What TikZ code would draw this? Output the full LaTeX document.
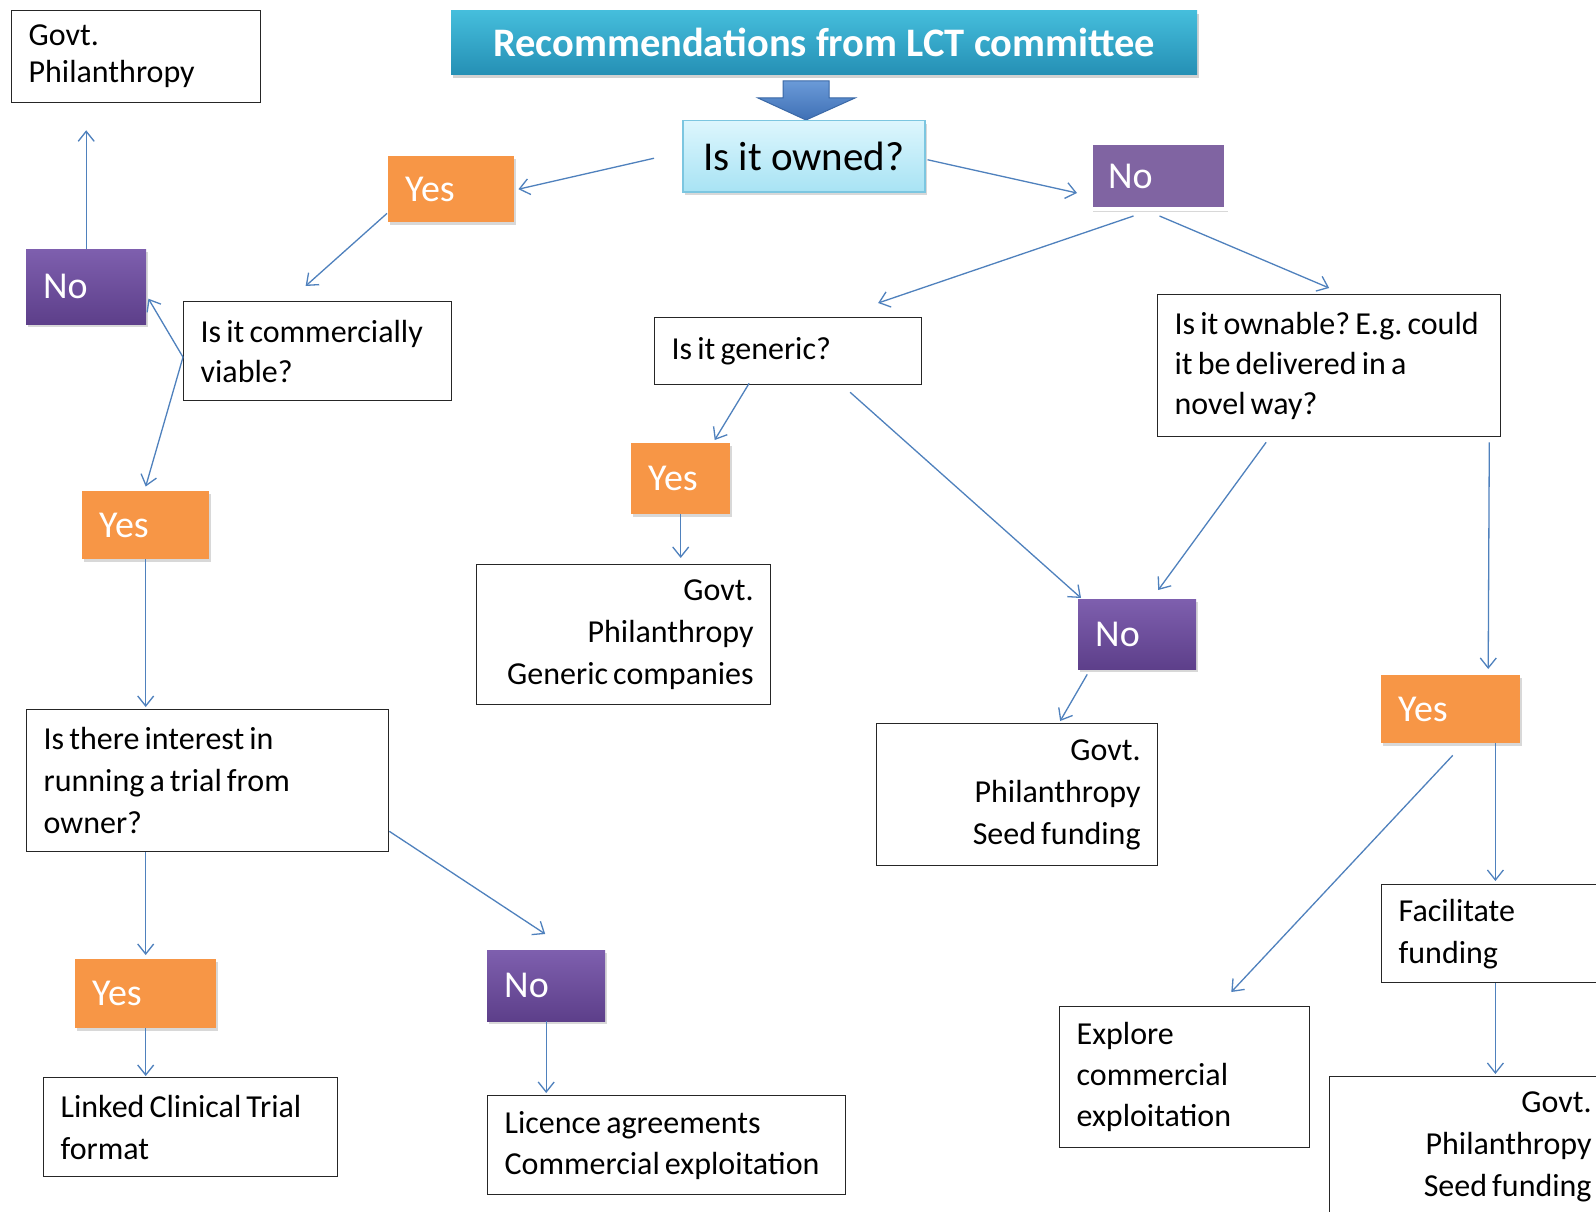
\documentclass[tikz,border=0pt]{standalone}
\usepackage{fontspec}
\setmainfont{Carlito}
\usetikzlibrary{calc,arrows.meta,shadows}
\definecolor{arrowblue}{HTML}{4F81BD}
\definecolor{yesor}{HTML}{F79646}
\definecolor{nopurtop}{HTML}{7E5FAE}
\definecolor{nopurbot}{HTML}{5D3F8A}
\definecolor{noflat}{HTML}{8064A2}
\definecolor{hdrtop}{HTML}{45BEDC}
\definecolor{hdrbot}{HTML}{2590B5}
\definecolor{owntop}{HTML}{DDF6FD}
\definecolor{ownbot}{HTML}{A8E3F4}
\definecolor{ownbrd}{HTML}{7CC6E0}
\definecolor{dntop}{HTML}{6A9AD8}
\definecolor{dnbot}{HTML}{3F70B5}
\definecolor{dnbrd}{HTML}{3A68A6}
\begin{document}
\begin{tikzpicture}[x=1pt,y=-1pt,
  box/.style={draw=black!85, line width=1.3pt, fill=white, inner xsep=17pt, inner ysep=0pt,
    anchor=north west, font=\fontsize{32}{42}\selectfont, align=left,
    execute at begin node={\frenchspacing\spaceskip=0.16em\relax}},
  ynb/.style={anchor=north west, inner xsep=17pt, inner ysep=0pt, text=white,
    font=\fontsize{38}{44}\selectfont, align=left,
    drop shadow={opacity=0.3, shadow xshift=2pt, shadow yshift=-3pt}},
  yesb/.style={ynb, fill=yesor},
  nob/.style={ynb, top color=nopurtop, bottom color=nopurbot},
  arr/.style={draw=arrowblue, line width=1.3pt, -{Straight Barb[length=10pt,width=16pt]}}
]
\useasboundingbox (0,0) rectangle (1596,1212);
\fill[white] (0,0) rectangle (1596,1212);
\clip (0,0) rectangle (1596,1212);

% header
\node[anchor=north west, minimum width=746pt, minimum height=64pt, top color=hdrtop, bottom color=hdrbot,
  text=white, font=\bfseries\fontsize{40.5}{44}\selectfont,
  drop shadow={opacity=0.35, shadow xshift=2pt, shadow yshift=-4pt}] (hdr) at (451,10) {Recommendations from LCT committee};
% down arrow
\path[top color=dntop, bottom color=dnbot, draw=dnbrd, line width=1pt]
  (783,81) -- (829,81) -- (829,98) -- (855,98) -- (806,120) -- (758,98) -- (783,98) -- cycle;

\node[anchor=north west, minimum width=242pt, minimum height=71pt, top color=owntop, bottom color=ownbot,
  draw=ownbrd, line width=1.5pt, font=\fontsize{41}{46}\selectfont,
  drop shadow={opacity=0.3, shadow xshift=2pt, shadow yshift=-3pt}] (owned) at (682,120) {Is it owned?};

% coloured answer boxes
\node[yesb, text width=92pt, minimum height=66pt] (yes1) at (388,156) {Yes};
\node[ynb, fill=noflat, draw=white, line width=4pt, text width=101pt, minimum height=66pt,
  drop shadow={opacity=0.3, shadow xshift=1pt, shadow yshift=-2pt}] (no1) at (1089,141) {No};
\node[nob, text width=86pt, minimum height=75pt] (noL) at (26,249) {No};
\node[yesb, text width=93pt, minimum height=68pt] (yesL) at (82,491) {Yes};
\node[yesb, text width=107pt, minimum height=69pt] (yesB) at (75,959) {Yes};
\node[nob, text width=84pt, minimum height=71pt] (noB) at (487,950) {No};
\node[yesb, text width=65pt, minimum height=71pt] (yesM) at (631,443) {Yes};
\node[nob, text width=84pt, minimum height=70pt] (noM) at (1078,599) {No};
\node[yesb, text width=105pt, minimum height=68pt] (yesR) at (1381,675) {Yes};

% text boxes
\node[box, text width=215pt, minimum height=92pt, font=\fontsize{32}{37}\selectfont] (govtTL) at (11,10) {Govt.\\Philanthropy};
\node[box, text width=234pt, minimum height=99pt, font=\fontsize{32}{40}\selectfont] (comm) at (183,301) {Is it commercially\\viable?};
\node[box, text width=328pt, minimum height=142pt] (interest) at (26,709) {Is there interest in\\running a trial from\\owner?};
\node[box, text width=260pt, minimum height=99pt] (linked) at (43,1077) {Linked Clinical Trial\\format};
\node[box, text width=324pt, minimum height=99pt, font=\fontsize{32}{41}\selectfont] (licence) at (487,1095) {Licence agreements\\Commercial exploitation};
\node[box, text width=233pt, minimum height=67pt] (generic) at (654,317) {Is it generic?};
\node[box, text width=260pt, minimum height=140pt, align=right] (govtG) at (476,564) {Govt.\\Philanthropy\\Generic companies};
\node[box, text width=247pt, minimum height=142pt, align=right] (govtS) at (876,723) {Govt.\\Philanthropy\\Seed funding};
\node[box, text width=309pt, minimum height=142pt, font=\fontsize{32}{40}\selectfont] (ownable) at (1157,294) {\mbox{Is it ownable? E.g. could}\\it be delivered in a\\novel way?};
\node[box, text width=210pt, minimum height=98pt] (facil) at (1381,884) {Facilitate\\funding};
\node[box, text width=216pt, minimum height=141pt, font=\fontsize{32}{41}\selectfont] (explore) at (1059,1006) {Explore\\commercial\\exploitation};
\node[box, text width=245pt, minimum height=141pt, align=right] (govtBR) at (1329,1076) {Govt.\\Philanthropy\\Seed funding};

% connectors
\draw[arr] ($(owned.west)+(-28,2)$) -- ($(yes1.east)+(4,0)$);
\draw[arr] ($(owned.east)+(2,3.5)$) -- ($(no1.west)+(-12,17)$);
\draw[arr] ($(yes1.south west)+(-1,-9)$) -- ($(comm.north)+(-12,-15)$);
\draw[arr] ($(comm.west)+(0,6)$) -- ($(noL.east)+(2,12)$);
\draw[arr] ($(comm.west)+(0,6)$) -- ($(yesL.north)+(0,-4.5)$);
\draw[arr, shorten >=27pt] (noL.north) -- (noL.north |- govtTL.south);
\draw[arr, shorten >=2pt] (yesL.south) -- (yesL.south |- interest.north);
\draw[arr, shorten >=4pt] (interest.south -| yesB.north) -- (yesB.north);
\draw[arr, shorten >=1pt] (yesB.south) -- (yesB.south |- linked.north);
\draw[arr] ($(interest.south east)+(0,-21)$) -- ($(noB.north)+(-1,-16)$);
\draw[arr, shorten >=2pt] (noB.south) -- (noB.south |- licence.north);
\draw[arr] ($(no1.south)+(-25,5)$) -- ($(generic.north)+(90,-14)$);
\draw[arr] ($(no1.south)+(1,5)$) -- ($(ownable.north)+(0,-6)$);
\draw[arr] ($(generic.south)+(-39,-2)$) -- ($(yesM.north)+(34,-3)$);
\draw[arr, shorten >=6pt] (yesM.south) -- (yesM.south |- govtG.north);
\draw[arr] ($(generic.south)+(62,7)$) -- ($(noM.north west)+(3,-1)$);
\draw[arr] ($(ownable.south)+(-63,5)$) -- ($(noM.north)+(21,-9)$);
\draw[arr] ($(noM.south)+(-50,5)$) -- ($(govtS.north)+(43,-2)$);
\draw[arr] ($(ownable.south east)+(-12,5)$) -- ($(yesR.north)+(37.5,-6)$);
\draw[arr] ($(yesR.south)+(2,12)$) -- ($(explore.north east)+(-79,-14)$);
\coordinate (cr) at ($(yesR.south east)+(-25,0)$);
\draw[arr, shorten >=3pt] (cr) -- (cr |- facil.north);
\draw[arr, shorten >=2pt] (cr |- facil.south) -- (cr |- govtBR.north);
\end{tikzpicture}
\end{document}
